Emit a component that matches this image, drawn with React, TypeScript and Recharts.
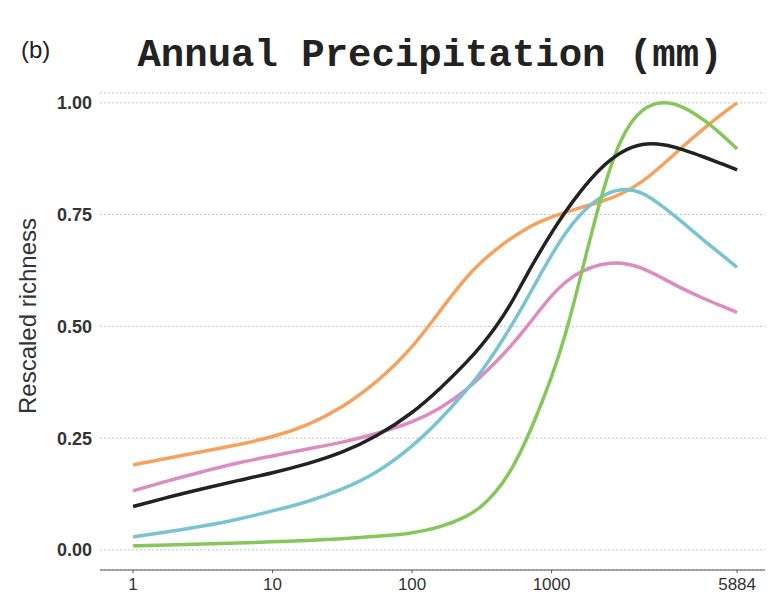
import { LineChart, Line, XAxis, YAxis, CartesianGrid } from "recharts"

// x positions in decade units along the axis (1 = one decade spacing on the figure)
const xPos = [0, 0.25, 0.5, 0.75, 1, 1.25, 1.5, 1.75, 2, 2.2, 2.4, 2.5, 2.6, 2.7, 2.8, 2.9, 3.0, 3.1, 3.2, 3.35, 3.5, 3.65, 3.8, 3.95, 4.1, 4.2, 4.33]

const orange = [0.19, 0.205, 0.22, 0.235, 0.252, 0.278, 0.318, 0.375, 0.45, 0.535, 0.615, 0.645, 0.672, 0.695, 0.715, 0.732, 0.745, 0.755, 0.765, 0.778, 0.795, 0.822, 0.862, 0.905, 0.945, 0.97, 1.0]
const black = [0.097, 0.118, 0.137, 0.155, 0.172, 0.192, 0.217, 0.254, 0.305, 0.36, 0.422, 0.458, 0.498, 0.545, 0.603, 0.658, 0.71, 0.757, 0.8, 0.855, 0.892, 0.91, 0.908, 0.895, 0.878, 0.866, 0.85]
const pink = [0.132, 0.155, 0.175, 0.195, 0.21, 0.226, 0.24, 0.26, 0.285, 0.315, 0.36, 0.39, 0.42, 0.453, 0.49, 0.53, 0.57, 0.6, 0.622, 0.64, 0.644, 0.632, 0.607, 0.582, 0.561, 0.548, 0.531]
const cyan = [0.029, 0.04, 0.053, 0.068, 0.087, 0.107, 0.135, 0.172, 0.23, 0.29, 0.36, 0.4, 0.445, 0.495, 0.548, 0.605, 0.66, 0.71, 0.75, 0.792, 0.81, 0.802, 0.768, 0.73, 0.69, 0.665, 0.632]
const green = [0.009, 0.011, 0.013, 0.015, 0.018, 0.021, 0.025, 0.03, 0.037, 0.05, 0.075, 0.097, 0.128, 0.172, 0.232, 0.305, 0.385, 0.48, 0.6, 0.79, 0.93, 0.99, 1.005, 0.992, 0.96, 0.935, 0.897]

const xTicks = [0, 1, 2, 3, 4.33]
const xTickLabels = ["1", "10", "100", "1000", "5884"]
const yTicks = [0, 0.25, 0.5, 0.75, 1]

const data = xPos.map((x, i) => ({
  x,
  orange: orange[i],
  black: black[i],
  pink: pink[i],
  cyan: cyan[i],
  green: green[i]
}))

const series = [
  { key: "orange", color: "#f4a25e" },
  { key: "pink", color: "#dc8cc2" },
  { key: "cyan", color: "#78c4d2" },
  { key: "green", color: "#86c75c" },
  { key: "black", color: "#222222" }
]

export default function App() {
  return (
    <div style={{ position: "absolute", left: 0, top: 0, width: 779, height: 606, background: "#fff" }}>
      <LineChart
        width={779}
        height={606}
        data={data}
        margin={{ top: 93, right: 14, bottom: 0, left: 40 }}
      >
        <CartesianGrid
          horizontal={true}
          vertical={false}
          stroke="#c4c4c4"
          strokeDasharray="2 2"
        />
        <XAxis
          dataKey="x"
          type="number"
          domain={[-0.237, 4.53]}
          ticks={xTicks}
          tickFormatter={(v: number) => xTickLabels[xTicks.indexOf(v)]}
          height={36}
          stroke="#555"
          tickSize={3}
          tickMargin={5}
          tick={{ fill: "#333", fontSize: 17, fontFamily: "Liberation Sans, Arial, sans-serif" }}
        />
        <YAxis
          type="number"
          domain={[-0.045, 1.022]}
          ticks={yTicks}
          tickFormatter={(v: number) => v.toFixed(2)}
          width={60}
          axisLine={false}
          tickLine={false}
          tick={{ fill: "#333", fontSize: 18, fontWeight: "bold", fontFamily: "Liberation Sans, Arial, sans-serif" }}
        />
        {series.map((s) => (
          <Line
            key={s.key}
            dataKey={s.key}
            type="basis"
            stroke={s.color}
            strokeWidth={3.5}
            dot={false}
            isAnimationActive={false}
          />
        ))}
      </LineChart>
      <svg
        width={779}
        height={606}
        style={{ position: "absolute", left: 0, top: 0, pointerEvents: "none" }}
      >
        <text x={21} y={58} fontSize={24} fill="#222" fontFamily="Liberation Sans, Arial, sans-serif">
          (b)
        </text>
        <text
          x={430}
          y={66}
          textAnchor="middle"
          fontSize={39}
          fontWeight="bold"
          fill="#222"
          fontFamily="'Courier New', Courier, 'Nimbus Mono PS', FreeMono, 'Liberation Mono', monospace"
        >
          Annual Precipitation (mm)
        </text>
        <text
          x={0}
          y={0}
          transform="translate(36, 316) rotate(-90)"
          textAnchor="middle"
          fontSize={24}
          fill="#333"
          fontFamily="Liberation Sans, Arial, sans-serif"
        >
          Rescaled richness
        </text>
      </svg>
    </div>
  )
}
